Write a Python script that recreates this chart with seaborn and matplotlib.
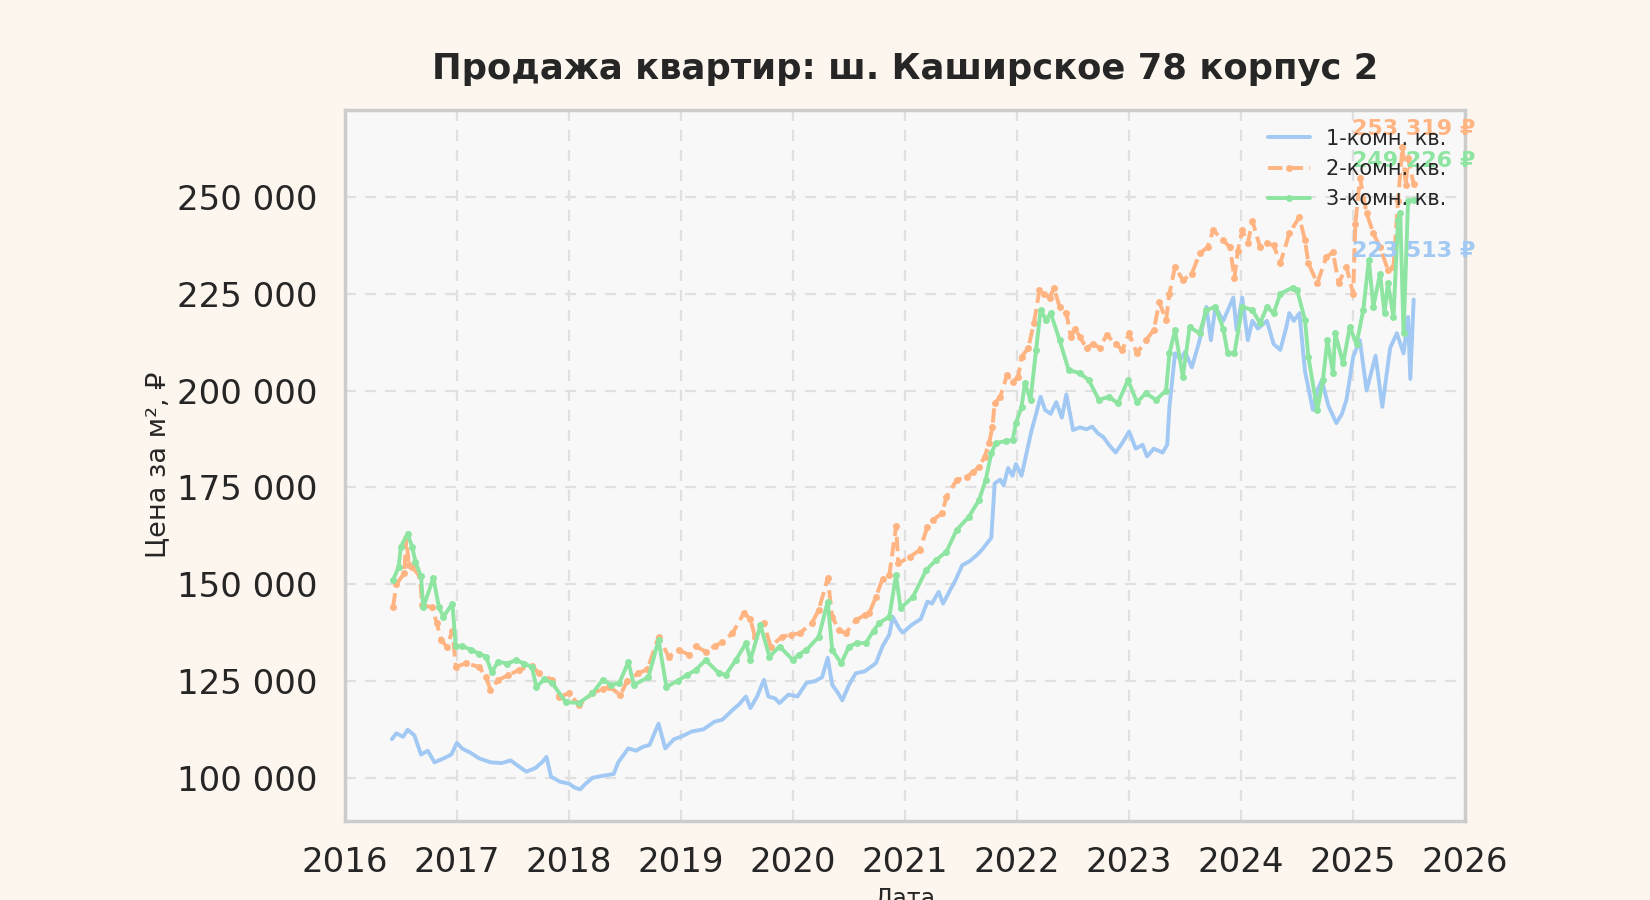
import numpy as np
import pandas as pd
import matplotlib.pyplot as plt
import matplotlib.ticker as mticker
import seaborn as sns

# цены в тыс. руб. за м2, x - год (дробный)
years_1 = [2016.42, 2016.46, 2016.52, 2016.56, 2016.62, 2016.68, 2016.74, 2016.80, 2016.88, 2016.95,
           2017.00, 2017.05, 2017.12, 2017.20, 2017.30, 2017.40, 2017.48, 2017.55, 2017.62, 2017.70,
           2017.76, 2017.80, 2017.84, 2017.92, 2018.00, 2018.05, 2018.10, 2018.15, 2018.21, 2018.30,
           2018.40, 2018.44, 2018.53, 2018.60, 2018.66, 2018.72, 2018.80, 2018.86, 2018.94, 2019.00,
           2019.10, 2019.20, 2019.30, 2019.37, 2019.46, 2019.52, 2019.58, 2019.62, 2019.68, 2019.74,
           2019.78, 2019.84, 2019.88, 2019.96, 2020.04, 2020.12, 2020.20, 2020.26, 2020.31, 2020.35,
           2020.40, 2020.44, 2020.50, 2020.56, 2020.64, 2020.74, 2020.80, 2020.86, 2020.89, 2020.95,
           2020.98, 2021.06, 2021.14, 2021.20, 2021.24, 2021.30, 2021.34, 2021.39, 2021.45, 2021.51,
           2021.58, 2021.64, 2021.69, 2021.77, 2021.80, 2021.85, 2021.88, 2021.92, 2021.96, 2021.99,
           2022.04, 2022.09, 2022.13, 2022.17, 2022.21, 2022.25, 2022.30, 2022.35, 2022.40, 2022.44,
           2022.50, 2022.56, 2022.62, 2022.67, 2022.72, 2022.77, 2022.82, 2022.88, 2022.94, 2023.00,
           2023.06, 2023.12, 2023.16, 2023.22, 2023.30, 2023.34, 2023.36, 2023.41, 2023.46, 2023.50,
           2023.56, 2023.63, 2023.69, 2023.73, 2023.77, 2023.84, 2023.93, 2023.96, 2024.01, 2024.06,
           2024.10, 2024.15, 2024.23, 2024.29, 2024.35, 2024.40, 2024.43, 2024.47, 2024.52, 2024.57,
           2024.64, 2024.68, 2024.72, 2024.78, 2024.85, 2024.90, 2024.94, 2025.00, 2025.06, 2025.12,
           2025.20, 2025.26, 2025.33, 2025.39, 2025.45, 2025.49, 2025.51, 2025.54]
price_1 = [110.0, 111.5, 110.6, 112.4, 111.0, 106.0, 107.0, 104.0, 105.0, 106.0,
           109.0, 107.5, 106.5, 105.0, 104.0, 103.8, 104.5, 103.0, 101.6, 102.5,
           104.0, 105.4, 100.3, 99.0, 98.5, 97.5, 97.0, 98.5, 100.0, 100.5,
           101.0, 104.0, 107.6, 107.0, 108.0, 108.5, 114.0, 107.6, 110.0, 110.6,
           112.0, 112.5, 114.5, 115.0, 117.5, 119.0, 121.0, 118.0, 121.0, 125.3,
           121.0, 120.5, 119.3, 121.5, 121.0, 124.5, 125.0, 126.0, 131.0, 124.0,
           122.0, 120.0, 124.0, 127.0, 127.5, 129.6, 134.0, 137.0, 141.6, 138.5,
           137.5, 139.5, 141.0, 145.5, 145.0, 148.0, 145.0, 147.8, 151.0, 154.9,
           156.0, 157.5, 159.0, 162.0, 176.0, 177.0, 175.5, 180.0, 178.0, 181.0,
           178.0, 184.6, 189.8, 194.0, 198.4, 195.0, 194.0, 197.0, 193.0, 199.0,
           189.8, 190.5, 190.0, 190.7, 189.0, 188.0, 186.0, 184.0, 186.5, 189.4,
           185.0, 186.0, 183.0, 185.0, 184.0, 186.0, 195.8, 209.6, 208.0, 210.0,
           206.0, 213.0, 221.6, 213.0, 221.6, 218.0, 224.0, 215.6, 224.0, 213.0,
           218.0, 216.0, 218.0, 212.0, 210.5, 216.0, 220.0, 218.0, 220.0, 205.0,
           195.0, 200.0, 202.7, 196.0, 191.6, 194.0, 197.6, 208.7, 213.0, 200.0,
           209.0, 195.8, 211.0, 214.8, 209.6, 219.0, 203.0, 223.513]

years_2 = [2016.43, 2016.46, 2016.53, 2016.55, 2016.57, 2016.60, 2016.67, 2016.69, 2016.78, 2016.82,
           2016.86, 2016.91, 2016.96, 2016.99, 2017.08, 2017.20, 2017.26, 2017.30, 2017.37, 2017.46,
           2017.55, 2017.67, 2017.73, 2017.85, 2017.91, 2018.00, 2018.09, 2018.21, 2018.30, 2018.36,
           2018.46, 2018.52, 2018.62, 2018.70, 2018.80, 2018.89, 2018.98, 2019.07, 2019.13, 2019.22,
           2019.30, 2019.37, 2019.46, 2019.56, 2019.62, 2019.66, 2019.74, 2019.80, 2019.90, 2019.98,
           2020.06, 2020.17, 2020.23, 2020.31, 2020.35, 2020.41, 2020.47, 2020.56, 2020.64, 2020.68,
           2020.74, 2020.80, 2020.86, 2020.92, 2020.94, 2021.04, 2021.13, 2021.20, 2021.25, 2021.33,
           2021.37, 2021.46, 2021.55, 2021.61, 2021.66, 2021.71, 2021.75, 2021.78, 2021.80, 2021.85,
           2021.91, 2021.96, 2022.01, 2022.04, 2022.10, 2022.15, 2022.20, 2022.24, 2022.29, 2022.33,
           2022.38, 2022.44, 2022.48, 2022.52, 2022.56, 2022.62, 2022.68, 2022.74, 2022.80, 2022.88,
           2022.94, 2023.00, 2023.07, 2023.15, 2023.22, 2023.27, 2023.33, 2023.36, 2023.41, 2023.48,
           2023.56, 2023.63, 2023.70, 2023.75, 2023.84, 2023.90, 2023.94, 2023.97, 2024.01, 2024.06,
           2024.10, 2024.17, 2024.23, 2024.29, 2024.35, 2024.43, 2024.52, 2024.57, 2024.60, 2024.68,
           2024.76, 2024.82, 2024.87, 2024.94, 2025.00, 2025.02, 2025.06, 2025.12, 2025.18, 2025.24,
           2025.31, 2025.36, 2025.40, 2025.44, 2025.47, 2025.49, 2025.54]
price_2 = [144.0, 150.0, 152.8, 162.0, 155.0, 154.5, 152.0, 144.6, 144.0, 140.0,
           135.6, 133.8, 138.0, 128.6, 129.6, 128.6, 126.0, 122.7, 125.3, 126.5,
           127.8, 129.0, 127.0, 125.3, 120.9, 121.8, 118.8, 121.8, 123.0, 123.5,
           121.4, 125.0, 127.0, 128.0, 136.4, 131.3, 133.0, 131.8, 134.0, 132.6,
           134.0, 135.0, 137.3, 142.5, 141.0, 136.4, 140.0, 133.9, 136.4, 137.0,
           137.3, 140.0, 143.4, 151.6, 141.6, 138.2, 137.3, 140.7, 142.0, 142.5,
           146.7, 151.4, 152.4, 165.0, 155.4, 157.0, 158.8, 164.8, 166.6, 168.3,
           172.5, 176.9, 177.7, 179.0, 180.3, 182.9, 186.4, 190.6, 196.7, 198.4,
           204.0, 202.3, 203.5, 208.7, 211.0, 217.4, 226.0, 225.0, 224.0, 226.4,
           221.6, 220.0, 213.8, 216.0, 213.8, 211.0, 212.0, 211.0, 214.4, 212.0,
           210.5, 214.8, 209.6, 213.0, 215.6, 222.8, 218.2, 225.0, 232.0, 228.5,
           230.2, 235.4, 237.0, 241.4, 238.8, 237.0, 229.0, 236.0, 241.4, 238.0,
           243.8, 237.0, 238.0, 237.5, 232.9, 240.6, 244.8, 238.8, 232.9, 227.7,
           234.5, 235.7, 227.7, 232.0, 225.0, 243.0, 255.0, 245.8, 240.6, 237.0,
           231.2, 232.0, 249.0, 263.0, 253.0, 260.0, 253.319]

years_3 = [2016.43, 2016.48, 2016.50, 2016.56, 2016.60, 2016.63, 2016.68, 2016.70, 2016.79, 2016.84,
           2016.88, 2016.96, 2016.99, 2017.05, 2017.13, 2017.20, 2017.26, 2017.31, 2017.37, 2017.45,
           2017.53, 2017.60, 2017.67, 2017.71, 2017.78, 2017.85, 2017.97, 2018.09, 2018.21, 2018.30,
           2018.38, 2018.45, 2018.53, 2018.58, 2018.71, 2018.80, 2018.87, 2018.97, 2019.05, 2019.13,
           2019.22, 2019.34, 2019.40, 2019.49, 2019.58, 2019.62, 2019.71, 2019.79, 2019.88, 2020.00,
           2020.05, 2020.12, 2020.23, 2020.31, 2020.35, 2020.43, 2020.50, 2020.57, 2020.65, 2020.72,
           2020.77, 2020.86, 2020.92, 2020.96, 2021.07, 2021.19, 2021.28, 2021.37, 2021.46, 2021.57,
           2021.66, 2021.72, 2021.77, 2021.81, 2021.90, 2021.96, 2021.99, 2022.04, 2022.07, 2022.12,
           2022.17, 2022.21, 2022.26, 2022.30, 2022.38, 2022.46, 2022.56, 2022.64, 2022.73, 2022.82,
           2022.90, 2022.99, 2023.07, 2023.15, 2023.24, 2023.33, 2023.36, 2023.41, 2023.48, 2023.54,
           2023.63, 2023.69, 2023.77, 2023.84, 2023.88, 2023.94, 2024.01, 2024.10, 2024.17, 2024.23,
           2024.29, 2024.35, 2024.46, 2024.50, 2024.57, 2024.60, 2024.68, 2024.73, 2024.77, 2024.82,
           2024.84, 2024.91, 2024.97, 2025.03, 2025.09, 2025.14, 2025.18, 2025.24, 2025.28, 2025.31,
           2025.36, 2025.40, 2025.42, 2025.45, 2025.49, 2025.54]
price_3 = [151.0, 154.5, 159.7, 163.0, 159.7, 155.8, 152.0, 144.0, 151.6, 144.0,
           141.6, 145.0, 134.0, 134.0, 133.0, 132.0, 131.3, 127.3, 130.0, 129.5,
           130.4, 129.5, 128.6, 123.4, 125.5, 124.5, 119.6, 119.3, 121.8, 125.3,
           124.0, 124.5, 129.9, 124.0, 126.0, 135.6, 123.5, 125.0, 126.5, 127.8,
           130.4, 127.0, 126.6, 130.4, 134.8, 130.4, 139.4, 131.3, 133.9, 130.4,
           131.8, 133.0, 136.4, 145.5, 133.0, 129.6, 133.9, 134.8, 134.8, 138.0,
           140.0, 141.6, 152.4, 143.8, 146.7, 153.7, 156.3, 158.4, 164.0, 167.4,
           171.7, 176.9, 183.8, 186.4, 187.0, 187.2, 191.6, 195.8, 201.9, 197.6,
           210.5, 220.8, 218.2, 220.0, 213.0, 205.3, 204.5, 202.7, 197.6, 198.4,
           196.7, 202.7, 197.0, 199.3, 197.6, 200.0, 209.6, 215.6, 203.5, 216.4,
           214.8, 220.8, 221.6, 216.0, 209.6, 209.6, 221.6, 220.8, 217.4, 221.6,
           220.0, 225.0, 226.6, 225.9, 218.2, 208.7, 195.0, 202.7, 213.0, 204.5,
           214.8, 207.0, 216.4, 212.0, 220.8, 233.7, 221.6, 230.2, 220.0, 227.7,
           219.0, 244.0, 245.8, 214.8, 249.0, 249.226]

labels = ['1-комн. кв.', '2-комн. кв.', '3-комн. кв.']
y_ticks = [100000, 125000, 150000, 175000, 200000, 225000, 250000]
x_ticks = list(range(2016, 2027))

sns.set_theme(style='whitegrid')
plt.rcParams['font.family'] = ['DejaVu Sans']
colors = sns.color_palette('pastel')[:3]

fig, ax = plt.subplots(figsize=(16.5, 9), dpi=100)
fig.patch.set_facecolor('#FDF6EE')
ax.set_facecolor('#F8F8F8')
fig.subplots_adjust(left=0.209, right=0.888, top=0.878, bottom=0.088)

series = [(years_1, price_1, '-', None, 35),
          (years_2, price_2, '--', 'o', 40),
          (years_3, price_3, '-', 'o', 28)]

for (xs, ys, ls, mk, off), lab, c in zip(series, labels, colors):
    df = pd.DataFrame({'year': xs, 'price': np.array(ys) * 1000})
    sns.lineplot(data=df, x='year', y='price', ax=ax, color=c, linestyle=ls,
                 marker=mk, markersize=5, markeredgewidth=0, linewidth=2.8, label=lab)
    last_x, last_y = df['year'].iloc[-1], df['price'].iloc[-1]
    ax.annotate(f"{last_y:,.0f} ₽".replace(',', ' '), xy=(last_x, last_y),
                xytext=(0, off), textcoords='offset points', ha='center', va='center',
                fontsize=16, fontweight='bold', color=c)

ax.set_xlim(2016, 2026)
ax.set_ylim(88900, 272500)
ax.set_xticks(x_ticks)
ax.set_yticks(y_ticks)
ax.yaxis.set_major_formatter(mticker.FuncFormatter(lambda v, p: f"{v:,.0f}".replace(',', ' ')))
ax.tick_params(axis='both', labelsize=24.5, colors='#262626')
ax.tick_params(axis='x', pad=12)
ax.tick_params(axis='y', pad=14)

ax.grid(True, linestyle='--', dashes=(5, 4), color='#E0E0E0', linewidth=1.6)
for s in ax.spines.values():
    s.set_color('#CCCCCC')
    s.set_linewidth(2.5)

ax.set_title('Продажа квартир: ш. Каширское 78 корпус 2', fontsize=25.5, fontweight='bold',
             pad=22, color='#262626')
ax.set_ylabel('Цена за м², ₽', fontsize=19.5, labelpad=4)
ax.set_xlabel('Дата', fontsize=17, labelpad=6)
ax.legend(loc='upper right', fontsize=15, frameon=False)

fig.savefig('out.png', dpi=100, facecolor=fig.get_facecolor())
